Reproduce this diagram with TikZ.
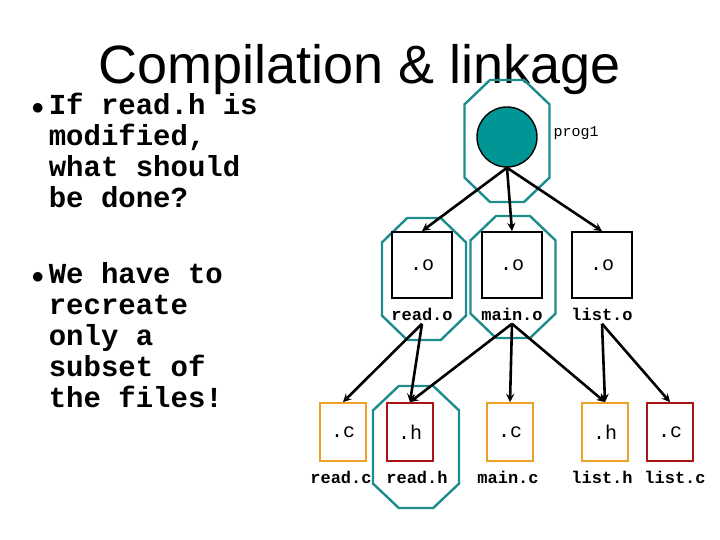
\documentclass[tikz,border=0pt]{standalone}
\usepackage{fontspec}
\setmainfont{Liberation Sans}
\newfontfamily\cour{Liberation Mono}
\usetikzlibrary{arrows,positioning}
\definecolor{teal1}{RGB}{0,150,150}
\definecolor{tealline}{RGB}{30,140,140}
\definecolor{orng}{RGB}{235,160,40}
\definecolor{dred}{RGB}{170,20,20}
\newcommand{\octagon}[4]{% cx cy w h
  \draw[octa] (#1-#3/2+#3*0.3,#2-#4/2) -- (#1+#3/2-#3*0.3,#2-#4/2) -- (#1+#3/2,#2-#4/2+#4*0.2)
    -- (#1+#3/2,#2+#4/2-#4*0.2) -- (#1+#3/2-#3*0.3,#2+#4/2) -- (#1-#3/2+#3*0.3,#2+#4/2)
    -- (#1-#3/2,#2+#4/2-#4*0.2) -- (#1-#3/2,#2-#4/2+#4*0.2) -- cycle;}

\begin{document}
\begin{tikzpicture}[x=1pt,y=-1pt,
    link/.style={->,>=stealth,line width=2.6pt},
    file/.style={rectangle,draw,line width=1.8pt,minimum width=46pt,minimum height=58pt,font=\cour\fontsize{20}{20}\selectfont},
    obj/.style={file,minimum width=60pt,minimum height=66pt},
    fname/.style={font=\cour\bfseries\fontsize{17}{17}\selectfont},
    octa/.style={draw=tealline,line width=2.4pt}
]
\useasboundingbox (0,0) rectangle (720,540);

% Title and bullets
\node (title) at (360,70) {\fontsize{54}{54}\selectfont Compilation \& linkage};
\node[anchor=north west,align=left,font=\cour\bfseries\fontsize{29}{31}\selectfont] (q1) at (28,90)
  {$\bullet$\,If read.h is\\\phantom{$\bullet$\,}modified,\\\phantom{$\bullet$\,}what should\\\phantom{$\bullet$\,}be done?};
\node[anchor=north west,align=left,font=\cour\bfseries\fontsize{29}{31}\selectfont] (q2) at (28,259)
  {$\bullet$\,We have to\\\phantom{$\bullet$\,}recreate\\\phantom{$\bullet$\,}only a\\\phantom{$\bullet$\,}subset of\\\phantom{$\bullet$\,}the files!};

% Highlight octagons
\octagon{507}{141}{85}{122}
\octagon{424}{279}{84}{122}
\octagon{513}{277}{85}{122}
\octagon{416}{447}{86}{122}

% Program
\node[circle,draw,fill=teal1,line width=1.4pt,minimum size=60pt,inner sep=0pt] (prog) at (507,137) {};
\node[fname,font=\cour\fontsize{15}{15}\selectfont] (progl) at (576,133) {prog1};

% Object files
\node[obj] (reado) at (422,265) {.o};
\node[obj] (maino) at (512,265) {.o};
\node[obj] (listo) at (602,265) {.o};
\node[fname] (readol) at (422,314) {read.o};
\node[fname] (mainol) at (512,314) {main.o};
\node[fname] (listol) at (602,314) {list.o};

% Source files
\node[file,draw=orng] (readc) at (343,432) {.c};
\node[file,draw=dred] (readh) at (410,432) {.h};
\node[file,draw=orng] (mainc) at (510,432) {.c};
\node[file,draw=orng] (listh) at (605,432) {.h};
\node[file,draw=dred] (listc) at (670,432) {.c};
\node[fname] (readcl) at (341,477) {read.c};
\node[fname] (readhl) at (417,477) {read.h};
\node[fname] (maincl) at (508,477) {main.c};
\node[fname] (listhl) at (602,477) {list.h};
\node[fname] (listcl) at (675,477) {list.c};

% Dependencies
\draw[link] (prog.south) -- (reado.north);
\draw[link] (prog.south) -- (maino.north);
\draw[link] (prog.south) -- (listo.north);
\draw[link] (readol.south) -- (readc.north);
\draw[link] (readol.south) -- (readh.north);
\draw[link] (mainol.south) -- (readh.north);
\draw[link] (mainol.south) -- (mainc.north);
\draw[link] (mainol.south) -- (listh.north);
\draw[link] (listol.south) -- (listh.north);
\draw[link] (listol.south) -- (listc.north);
\end{tikzpicture}
\end{document}
